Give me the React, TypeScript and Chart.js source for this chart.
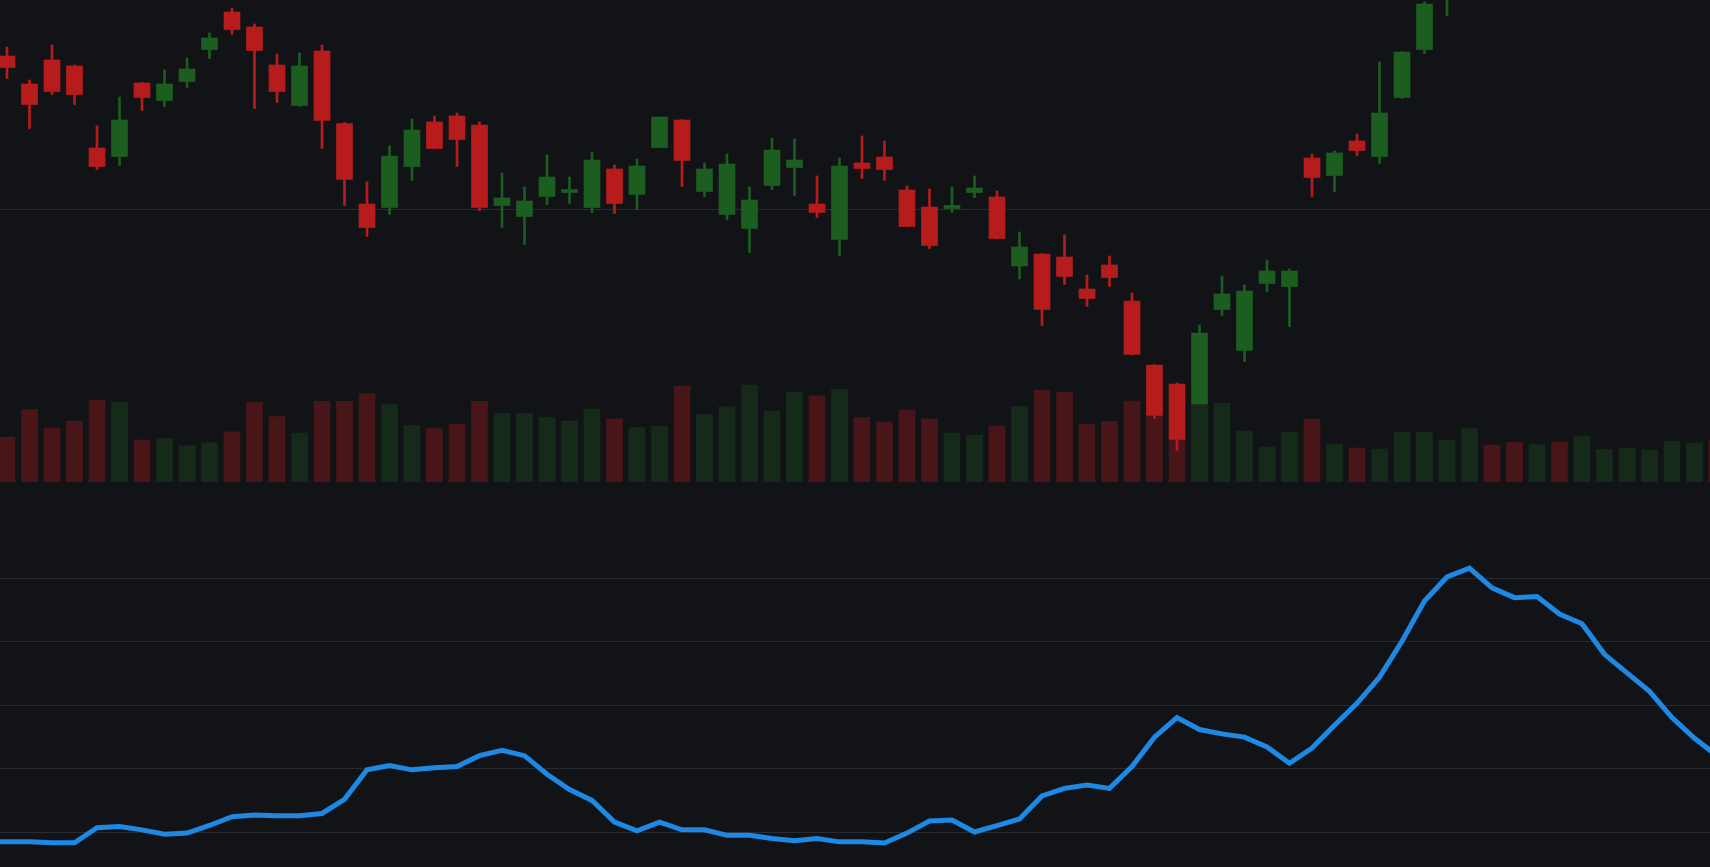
import { useEffect, useRef } from "react";
import Chart from "chart.js/auto";

// candle data, one entry per session (index 0 is the left-most candle)
const opens = [
  130.6, 125.0, 129.8, 128.6, 112.2, 110.5, 125.2, 121.7, 125.5, 131.9,
  139.4, 136.4, 128.8, 120.7, 131.6, 117.1, 101.0, 100.3, 108.5, 117.4,
  118.6, 116.8, 100.7, 98.5, 102.5, 103.3, 100.3, 108.0, 102.9, 112.3,
  117.8, 103.5, 98.9, 96.1, 104.7, 108.3, 101.0, 93.9, 109.2, 110.4,
  103.8, 100.4, 100.1, 103.3, 102.4, 88.6, 91.0, 90.4, 84.0, 88.8,
  81.6, 68.8, 65.0, 61.0, 79.9, 71.7, 85.1, 84.5, 110.2, 106.7,
  113.6, 110.5, 122.3, 131.9, 142.2, 148.5, 154.0, 151.0, 148.0, 151.5,
  149.0, 153.0, 155.5, 157.5, 159.0, 162.0, 164.0,
];
const highs = [
  132.4, 125.8, 132.8, 128.8, 116.6, 122.4, 125.3, 127.8, 130.2, 135.2,
  140.2, 137.0, 131.0, 131.2, 132.8, 117.3, 105.4, 112.6, 118.0, 118.6,
  119.2, 117.4, 107.2, 104.4, 110.8, 106.4, 111.4, 108.8, 110.0, 118.4,
  117.9, 109.2, 111.0, 104.4, 114.2, 114.0, 106.6, 110.2, 114.6, 113.6,
  104.6, 104.0, 104.4, 106.6, 103.6, 95.4, 91.1, 94.8, 86.8, 90.6,
  83.2, 68.9, 65.2, 76.8, 86.6, 84.8, 89.8, 88.0, 111.0, 111.6,
  115.0, 129.4, 131.5, 141.4, 150.2, 156.0, 157.0, 153.5, 153.0, 153.0,
  154.5, 156.5, 158.5, 160.0, 163.0, 165.0, 165.5,
];
const lows = [
  126.1, 116.1, 122.9, 120.9, 107.9, 108.7, 119.7, 120.5, 124.3, 130.1,
  134.9, 120.1, 121.3, 120.5, 112.1, 100.7, 94.5, 98.9, 105.7, 112.0,
  108.5, 99.7, 96.3, 92.9, 100.9, 101.1, 99.3, 99.1, 99.9, 112.3,
  104.5, 102.5, 97.9, 91.3, 103.9, 102.7, 98.3, 90.7, 106.1, 105.7,
  96.4, 92.1, 99.3, 102.3, 94.0, 86.0, 76.7, 84.9, 80.5, 84.5,
  70.8, 58.1, 51.7, 61.0, 78.7, 69.5, 83.5, 76.5, 102.5, 103.5,
  110.7, 109.1, 122.1, 131.1, 138.7, 146.5, 148.0, 146.0, 146.5, 147.5,
  148.0, 152.0, 154.5, 156.5, 158.0, 161.0, 160.5,
];
const closes = [
  128.3, 120.9, 123.5, 122.9, 108.5, 117.8, 122.3, 125.0, 128.0, 134.2,
  135.9, 131.7, 123.5, 128.6, 117.7, 105.9, 96.3, 110.6, 115.8, 112.1,
  113.9, 100.3, 102.2, 101.6, 106.4, 103.9, 109.8, 101.1, 108.6, 118.4,
  109.7, 108.0, 109.0, 101.8, 111.8, 109.8, 99.3, 108.6, 108.1, 107.9,
  96.5, 92.7, 100.7, 104.2, 94.1, 92.4, 79.9, 86.5, 82.1, 86.3,
  70.9, 58.7, 53.9, 75.2, 83.0, 83.6, 87.6, 87.6, 106.3, 111.2,
  111.7, 119.2, 131.4, 141.0, 148.5, 154.0, 150.5, 148.0, 151.5, 149.0,
  153.0, 155.5, 157.5, 159.0, 162.0, 164.0, 161.5,
];
const volumes = [
  44700, 72300, 54000, 61000, 82000, 79300, 42000, 43300, 36300, 39200,
  50100, 79600, 65400, 49000, 80700, 80700, 88300, 77400, 56700, 53400,
  57800, 80700, 68700, 68700, 64300, 61000, 73000, 63200, 54500, 55600,
  95900, 67600, 75200, 97000, 70800, 89400, 86100, 92700, 64300, 60000,
  72000, 63200, 49000, 46900, 56000, 75300, 92000, 89700, 58000, 60300,
  81000, 66000, 42300, 78000, 79000, 51000, 35000, 50000, 63000, 38000,
  34000, 33000, 50000, 50000, 42000, 53300, 37000, 39700, 37300, 40000,
  46000, 32700, 34000, 32000, 40700, 39000, 42000,
];
// indicator starts one session before the first candle
const indicatorStart = -1;
const indicator = [
  8.45,
  8.45, 8.45, 8.3, 8.3, 10.69, 10.86, 10.34, 9.66, 9.83, 11.03,
  12.4, 12.66, 12.58, 12.58, 12.92, 15.15, 19.79, 20.47, 19.79, 20.13,
  20.3, 22.02, 22.88, 22.02, 19.1, 16.7, 14.98, 11.55, 10.17, 11.55,
  10.34, 10.34, 9.48, 9.48, 8.97, 8.63, 8.97, 8.45, 8.45, 8.28,
  9.83, 11.72, 11.89, 10.0, 11.0, 12.06, 15.67, 16.87, 17.38, 16.87,
  20.3, 24.94, 28.03, 26.14, 25.45, 24.94, 23.39, 20.82, 23.22, 26.82,
  30.26, 34.38, 40.04, 46.39, 50.17, 51.55, 48.45, 46.91, 47.08, 44.33,
  42.79, 37.98, 35.06, 32.15, 28.03, 24.76, 22.02,
];
const priceGridLevels = [100];
const indicatorGridLevels = [10, 20, 30, 40, 50];

const BG = "#121317";
const GRID = "rgba(255,255,255,0.1)";
const UP = "#1b5e20";
const DOWN = "#b71c1c";
const UP_VOL = "rgba(27,94,32,0.32)";
const DOWN_VOL = "rgba(183,28,28,0.33)";
const LINE = "#1e88e5";

const X_MIN = -0.311;
const X_MAX = 75.689;

const isUp = (i: number) => closes[i] >= opens[i];

const PriceChart = () => {
  const canvasRef = useRef<HTMLCanvasElement | null>(null);

  useEffect(() => {
    if (!canvasRef.current) return;
    const idx = opens.map((_, i) => i);
    const chart = new Chart(canvasRef.current, {
      type: "bar",
      data: {
        datasets: [
          {
            label: "body",
            data: idx.map((i) => ({ x: i, y: [opens[i], closes[i]] })) as any,
            backgroundColor: idx.map((i) => (isUp(i) ? UP : DOWN)),
            barThickness: 16,
            grouped: false,
            yAxisID: "y",
            order: 1,
          },
          {
            label: "wick",
            data: idx.map((i) => ({ x: i, y: [lows[i], highs[i]] })) as any,
            backgroundColor: idx.map((i) => (isUp(i) ? UP : DOWN)),
            barThickness: 2,
            grouped: false,
            yAxisID: "y",
            order: 2,
          },
          {
            label: "volume",
            data: idx.map((i) => ({ x: i, y: volumes[i] })) as any,
            backgroundColor: idx.map((i) => (isUp(i) ? UP_VOL : DOWN_VOL)),
            barThickness: 16,
            grouped: false,
            yAxisID: "vol",
            order: 3,
          },
        ],
      },
      options: {
        responsive: false,
        animation: false,
        events: [],
        layout: { padding: 0 },
        plugins: { legend: { display: false }, tooltip: { enabled: false } },
        scales: {
          x: { type: "linear", min: X_MIN, max: X_MAX, offset: false, display: false },
          y: {
            min: 45.4,
            max: 141.8,
            ticks: { display: false },
            border: { display: false },
            grid: { color: GRID, drawTicks: false },
            afterBuildTicks: (axis: any) => {
              axis.ticks = priceGridLevels.map((v) => ({ value: v }));
            },
          },
          vol: { min: 0, max: 482000, display: false },
        },
      },
    });
    return () => chart.destroy();
  }, []);

  return <canvas ref={canvasRef} width={1710} height={482} style={{ display: "block" }} />;
};

const IndicatorChart = () => {
  const canvasRef = useRef<HTMLCanvasElement | null>(null);

  useEffect(() => {
    if (!canvasRef.current) return;
    const chart = new Chart(canvasRef.current, {
      type: "line",
      data: {
        datasets: [
          {
            label: "indicator",
            data: indicator.map((v, i) => ({ x: i + indicatorStart, y: v })),
            borderColor: LINE,
            borderWidth: 5,
            pointRadius: 0,
            tension: 0,
            fill: false,
          },
        ],
      },
      options: {
        responsive: false,
        animation: false,
        events: [],
        layout: { padding: 0 },
        plugins: { legend: { display: false }, tooltip: { enabled: false } },
        scales: {
          x: { type: "linear", min: X_MIN, max: X_MAX, offset: false, display: false },
          y: {
            min: 4.49,
            max: 65.12,
            ticks: { display: false },
            border: { display: false },
            grid: { color: GRID, drawTicks: false },
            afterBuildTicks: (axis: any) => {
              axis.ticks = indicatorGridLevels.map((v) => ({ value: v }));
            },
          },
        },
      },
    });
    return () => chart.destroy();
  }, []);

  return <canvas ref={canvasRef} width={1710} height={385} style={{ display: "block" }} />;
};

export default function App() {
  useEffect(() => {
    document.body.style.margin = "0";
    document.body.style.background = BG;
  }, []);

  return (
    <div style={{ background: BG, width: 1710, height: 867, overflow: "hidden" }}>
      <PriceChart />
      <IndicatorChart />
    </div>
  );
}
